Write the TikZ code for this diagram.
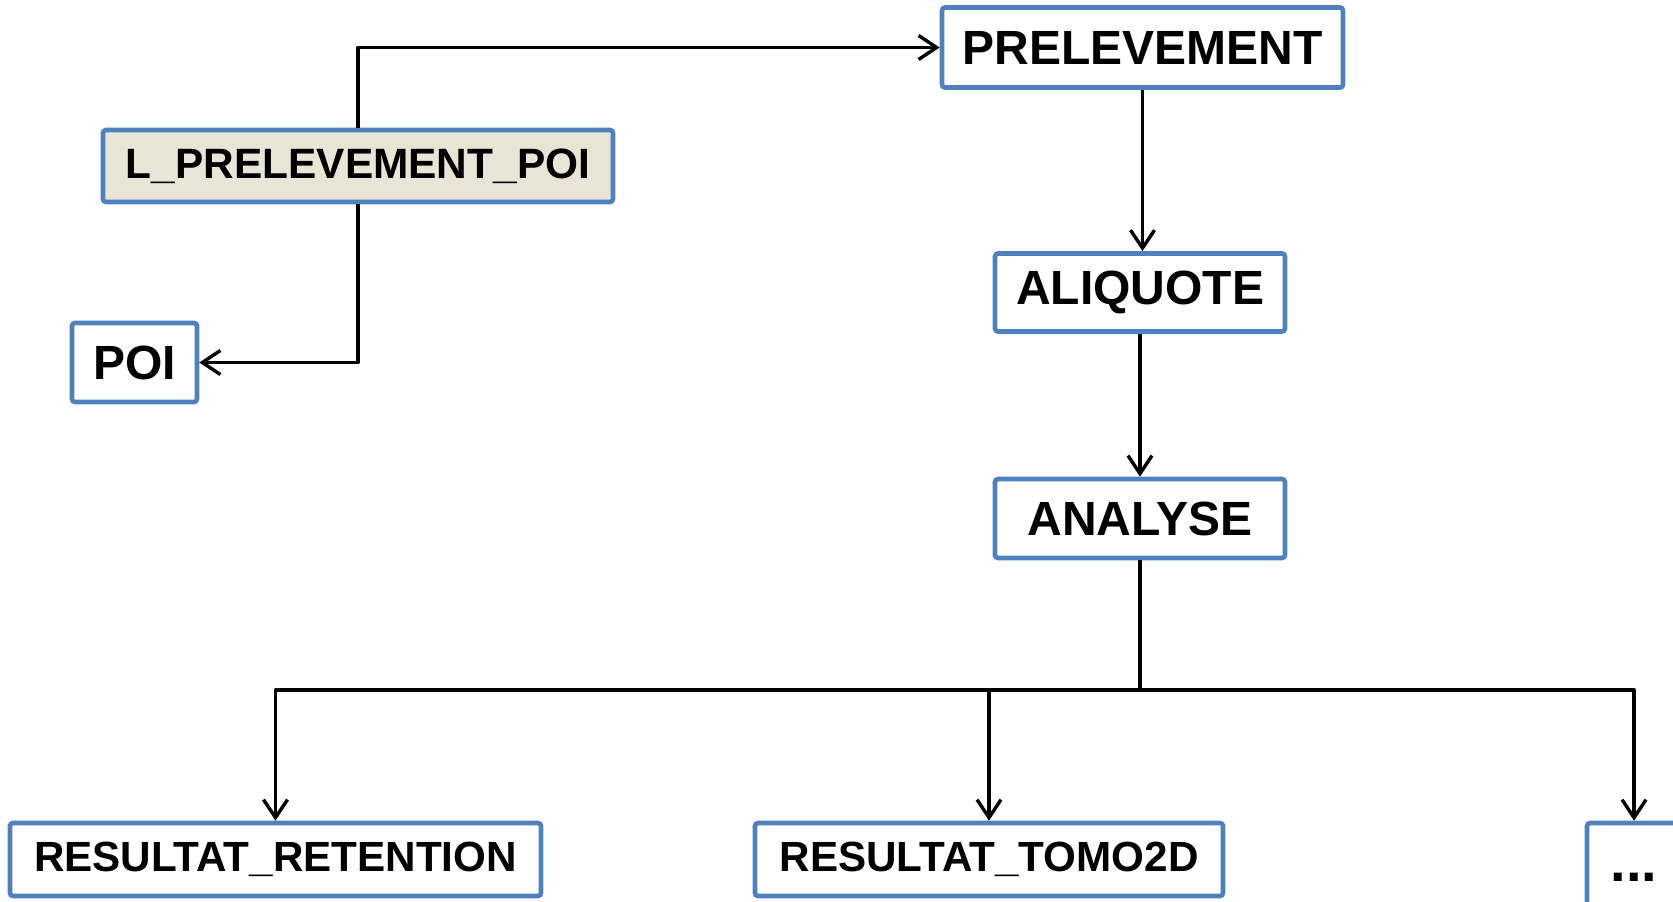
\documentclass[tikz,border=0pt]{standalone}
\usepackage{fontspec}
\setmainfont{Liberation Sans}
\usetikzlibrary{arrows.meta}
\definecolor{boxblue}{HTML}{4F81BD}
\definecolor{tanfill}{HTML}{E8E5D7}
\begin{document}
\begin{tikzpicture}[x=0.5pt,y=-0.5pt,
  entity/.style={draw=boxblue, line width=2.3pt, fill=white, rounded corners=1.5pt,
    inner sep=0pt, font=\bfseries\fontsize{24pt}{27pt}\selectfont},
  smallentity/.style={entity, font=\bfseries\fontsize{21.1pt}{24pt}\selectfont},
  link/.style={draw=black, line width=1.7pt, line join=round,
    -{Straight Barb[length=9pt,width=12pt,line width=1.7pt]}}]
\useasboundingbox (0,0) rectangle (1673,901);
\fill[white] (0,0) rectangle (1673,901);
% entities
\node[entity, minimum width=200.5pt, minimum height=40pt] (prel) at (1142.5,47.5) {PRELEVEMENT};
\node[entity, minimum width=145pt, minimum height=39pt] (aliq) at (1140,292.5) {ALIQUOTE};
\node[entity, minimum width=145pt, minimum height=39.5pt] (anal) at (1140,518.5) {ANALYSE};
\node[entity, fill=tanfill, font=\bfseries\fontsize{21.2pt}{24pt}\selectfont,
      minimum width=255pt, minimum height=36pt] (lpp) at (358,166) {L\_PRELEVEMENT\_POI};
\node[entity, minimum width=62.5pt, minimum height=39.5pt] (poi) at (134.5,362.5) {POI};
\node[smallentity, minimum width=265.5pt, minimum height=36.5pt] (ret) at (275.5,859.5) {RESULTAT\_RETENTION};
\node[smallentity, minimum width=234pt, minimum height=36.5pt] (tomo) at (989,859.5) {RESULTAT\_TOMO2D};
\node[entity, font=\bfseries\fontsize{28pt}{30pt}\selectfont, minimum width=47pt, minimum height=48pt, text depth=0pt] (dots) at (1634,871) {\raisebox{-5pt}{...}};
% connectors
\coordinate (bus) at (1140,690);
\draw[link] (lpp.north) |- (prel.west);
\draw[link] (lpp.south) |- (poi.east);
\draw[link] (prel.south) -- (prel.south |- aliq.north);
\draw[link] (aliq.south) -- (anal.north);
\draw[line width=1.7pt] (anal.south) -- (bus);
\draw[link] (bus) -| (ret.north);
\draw[link] (bus) -| (tomo.north);
\draw[link] (bus) -| (dots.north);
\end{tikzpicture}
\end{document}
